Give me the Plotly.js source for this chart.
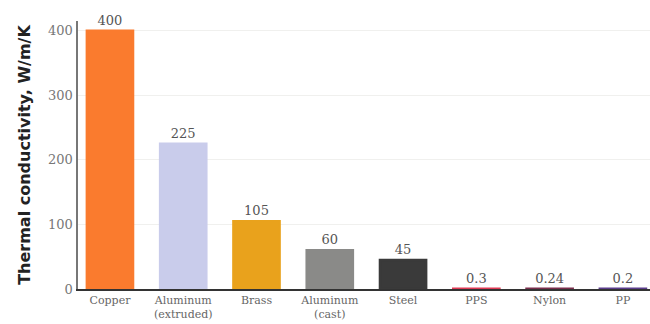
<!DOCTYPE html>
<html>
<head>
<script src="https://cdn.plot.ly/plotly-3.0.1.min.js"></script>
<style>html,body{margin:0;padding:0;background:#fff;}#chart{width:650px;height:324px;}</style>
</head>
<body>
<div id="chart"></div>
<script>
const categories = ["Copper", "Aluminum<br>(extruded)", "Brass", "Aluminum<br>(cast)", "Steel", "PPS", "Nylon", "PP"];
const values = [400, 225, 105, 60, 45, 0.3, 0.24, 0.2];
const valueLabels = ["400", "225", "105", "60", "45", "0.3", "0.24", "0.2"];
const barColors = ["#FA7B2E", "#C9CCEB", "#E9A21C", "#8A8A88", "#3A3A3A", "#E03A55", "#7A2E4C", "#5B3D8C"];
const yTicks = [0, 100, 200, 300, 400];

Plotly.newPlot("chart", [{
  type: "bar",
  x: categories,
  y: values,
  text: valueLabels,
  texttemplate: "%{text}",
  textposition: "outside",
  cliponaxis: false,
  textfont: {family: "DejaVu Serif, serif", size: 13, color: "#555"},
  marker: {color: barColors, line: {color: barColors, width: 2.5}},
  width: 0.63,
  hoverinfo: "none"
}], {
  width: 650, height: 324,
  margin: {l: 78, r: 0, t: 21, b: 35},
  paper_bgcolor: "#fff", plot_bgcolor: "#fff",
  showlegend: false,
  xaxis: {
    type: "category",
    range: [-0.436, 7.37],
    showline: true, linecolor: "#333", linewidth: 1.5,
    ticks: "", showgrid: false,
    tickfont: {family: "DejaVu Serif, serif", size: 11, color: "#666"}
  },
  yaxis: {
    range: [0, 415],
    tickvals: yTicks,
    ticktext: yTicks.map(String),
    showline: true, linecolor: "#777", linewidth: 2.5,
    showgrid: true, gridcolor: "#f0f0ee", gridwidth: 1,
    zeroline: false, ticks: "",
    tickfont: {family: "DejaVu Serif, serif", size: 13, color: "#777"},
    title: {text: "<b>Thermal conductivity, W/m/K</b>", font: {family: "DejaVu Sans, sans-serif", size: 16, color: "#222"}, standoff: 14}
  }
}, {displayModeBar: false, staticPlot: true});
</script>
</body>
</html>
